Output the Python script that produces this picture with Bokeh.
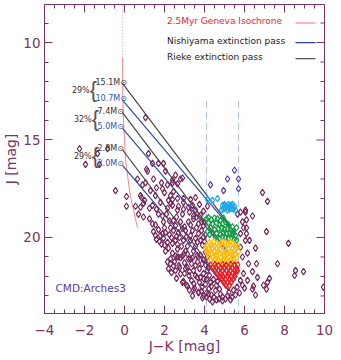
import math
from bokeh.plotting import figure
from bokeh.models import Range1d, FixedTicker, Label
from bokeh.embed import file_html
from bokeh.resources import INLINE

# ---------------- data ----------------
x_ticks = [-4, -2, 0, 2, 4, 6, 8, 10]
x_tick_labels = ["\u22124", "\u22122", "0", "2", "4", "6", "8", "10"]
x_minor = [-3.5, -3, -2.5, -1.5, -1, -0.5, 0.5, 1, 1.5, 2.5, 3, 3.5, 4.5, 5, 5.5,
           6.5, 7, 7.5, 8.5, 9, 9.5]
y_ticks = [10, 15, 20]
y_minor = [9, 11, 12, 13, 14, 16, 17, 18, 19, 21, 22, 23]

# 2.5 Myr Geneva isochrone (J-K, J)
iso_color = [-0.1, -0.08, -0.05, 0.05, 0.2, 0.3, 0.45, 0.65]
iso_J = [10.8, 13.0, 14.0, 16.0, 17.2, 17.9, 18.6, 19.5]
iso_upper_color = [-0.1, -0.1]
iso_upper_J = [7.5, 10.8]

# extinction vectors: start on isochrone, meet at a common end point
rieke_start_J = [12.1, 13.6, 15.5]
nishi_start_J = [12.95, 14.4, 16.3]
start_color = [-0.1, -0.1, -0.1]
end_color = [5.6, 5.4, 5.2]
end_J = [19.85, 21.05, 22.7]

rieke_mass = ["15.1M\u2299", "7.4M\u2299", "2.8M\u2299"]
nishi_mass = ["10.7M\u2299", "5.0M\u2299", "2.0M\u2299"]
mass_pct = ["29%", "32%", "29%"]

cut_color = [4.1, 5.7]
cut_J_top = [13.0, 13.0]
cut_J_bot = [24.0, 24.0]

field_color = [-2.25, -1.95, -1.35, -1.25, -0.85, 1.05,
    1.2, 1.4, 1.7, 1.95, 1.1, 1.15, 2.05, 1.45, 0.65, 1.85, 2.55, 2.4, 2.4, 2.8, 2.9, 2.65,
    -0.45, 0.9, 0.8, 2.3, 2.45, 2.65, 0.1, 0.85, 2.95, 2.4,
    0.1, 0.55, 0.8, 0.95, 1.0, 1.25, 1.4, 0.7, 0.95, 1.8, 1.7, 1.9, 2.3, 2.15, 2.4, 2.95, 3.4, 2.65, 2.9, 3.25, 3.55, 3.8,
    1.4, 1.55, 1.95, 2.45, 2.8, 3.2, 3.45, 3.7, 3.95,
    1.7, 1.45, 1.9, 2.05, 2.3, 2.45, 1.8, 2.7, 3.05, 3.4, 3.7, 3.95,
    1.95, 2.15, 2.4, 2.2, 2.65, 2.55, 2.95, 3.3, 3.65, 3.9, 2.65, 3.05, 3.45, 3.8, 2.7, 2.4,
    4.15, 2.8, 3.2, 3.65, 4.05, 4.2, 2.45, 2.63, 2.97, 3.3, 3.63, 2.3, 2.72, 3.13, 3.55, 3.88, 4.13,
    2.8, 3.22, 3.63, 3.97, 4.3, 3.47, 3.88, 4.22, 4.55, 4.8, 4.47, 4.72, 5.05, 5.38, 5.22, 5.63, 5.8, 5.63,
    5.65, 6.05, 5.9, 6.1, 5.8, 6.05, 5.8, 5.9, 5.95,
    6.9, 7.15, 6.05, 6.4, 6.1, 7.1, 6.1, 6.25, 8.2, 6.55, 6.15, 7.65, 8.55, 8.5, 8.95, 6.6, 7.25, 7.15,
    6.95, 7.1, 6.45, 6.4, 6.55, 6.65, 9.95, 5.95, 6.4, 6.15, 5.9, 6.2, 5.8,
    3.0, 3.3, 3.55, 3.15, 2.85, 3.35, 3.0, 3.75, 3.45, 3.05, 2.55, 3.35, 3.75, 4.05, 4.35, 4.6, 4.1, 4.35,
    4.6, 4.9, 5.15, 5.45, 5.55, 4.75, 3.95, 4.25, 4.45, 4.65, 4.05, 4.0, 3.85, 4.05, 4.0, 3.6, 3.95, 4.15,
    3.75, 3.3, 3.55, 2.25, 2.1, 2.6, 1.6, 1.25, 2.0, 2.55, 2.9, 1.6, 1.85, 2.05, 2.3, 2.55, 2.15,
    3.1, 3.5, 3.85, 4.2, 2.95, 3.25, 3.7, 4.1, 4.4, 4.9, 5.3, 5.75, 6.0, 3.4, 3.9,
    2.35, 2.6, 2.9, 3.15, 3.45, 3.7, 3.95, 4.25, 2.2, 2.5, 2.75, 3.0, 3.25, 3.55, 3.8, 4.1,
    2.9, 3.15, 3.4, 3.7, 3.95, 3.55, 3.8, 3.1, 2.75, 2.6, 2.25, 2.0, 1.75, 2.35, 1.55,
    3.3, 3.6, 3.85, 2.95, 3.2, 3.45, 2.7, 2.2, 2.0, 1.6, 1.3, 1.05, 1.55, 1.9, 2.15]
field_J = [15.45, 16.25, 15.7, 16.25, 15.45, 13.85,
    15.7, 16.2, 16.2, 16.2, 16.5, 16.6, 16.6, 17.0, 17.0, 17.2, 16.8, 17.2, 17.05, 17.0, 16.95, 17.25,
    17.6, 17.3, 17.85, 17.85, 17.65, 18.0, 17.9, 17.95, 18.0, 18.05,
    18.4, 18.4, 18.45, 18.25, 18.1, 18.5, 18.35, 18.8, 18.95, 18.2, 18.8, 18.9, 18.25, 18.5, 18.35, 18.2, 18.35, 18.6, 18.8, 18.7, 18.6, 18.85,
    19.3, 19.35, 19.2, 19.13, 19.2, 19.2, 19.05, 19.3, 19.4,
    19.6, 19.7, 19.8, 19.75, 19.5, 19.65, 19.9, 19.75, 19.65, 19.65, 19.8, 19.98,
    20.05, 20.25, 20.3, 20.55, 20.35, 20.15, 20.15, 20.15, 20.24, 20.4, 20.6, 20.7, 20.7, 20.9, 21.0, 20.8,
    21.0, 21.05, 21.1, 21.25, 21.4, 21.55, 21.45, 21.0, 20.84, 21.1, 20.93, 21.35, 21.44, 21.52, 21.44, 21.35, 21.7,
    21.87, 21.95, 22.04, 22.12, 22.3, 22.38, 22.55, 22.64, 22.72, 22.9, 23.06, 23.15, 23.15, 23.06, 22.81, 22.55, 22.2, 21.7,
    18.8, 18.6, 19.2, 19.5, 19.8, 20.15, 20.5, 21.0, 19.5,
    17.7, 18.15, 18.7, 18.9, 19.1, 19.7, 19.8, 20.15, 20.3, 20.55, 20.8, 21.35, 21.7, 21.95, 21.75, 21.35, 22.1, 22.3,
    22.45, 22.65, 22.5, 22.65, 22.95, 22.05, 22.55, 21.85, 21.75, 22.2, 22.45, 21.35, 18.7,
    19.45, 19.9, 20.45, 20.45, 20.45, 21.35, 21.3, 21.6, 21.7, 21.6, 21.7, 22.2, 22.3, 22.4, 22.5, 22.45, 22.85, 22.95,
    23.2, 23.25, 23.0, 22.7, 22.95, 22.65, 21.85, 21.95, 22.15, 22.25, 20.75, 20.2, 19.65, 19.85, 19.2, 18.95, 18.65, 18.4,
    18.3, 18.05, 17.95, 19.15, 18.8, 18.95, 18.55, 19.05, 19.5, 19.4, 19.55, 20.1, 20.35, 20.7, 21.1, 20.95, 21.25,
    22.45, 22.6, 22.75, 22.9, 22.25, 22.7, 22.85, 23.05, 23.3, 23.05, 23.2, 22.85, 22.6, 23.0, 23.1,
    21.8, 22.1, 22.3, 22.5, 22.7, 22.8, 23.0, 23.15, 21.6, 21.25, 21.55, 21.85, 21.75, 21.95, 22.05, 22.15,
    20.95, 20.85, 21.05, 21.0, 21.15, 20.05, 20.15, 19.95, 20.0, 19.95, 19.85, 20.4, 20.2, 20.0, 19.9,
    19.35, 19.5, 19.2, 18.55, 18.45, 18.9, 18.4, 18.1, 17.7, 17.45, 17.6, 17.2, 17.85, 17.5, 17.3]

violet_color = [5.5, 4.3, 5.15, 5.7, 4.95, 5.7]
violet_J = [16.55, 17.3, 17.0, 17.0, 17.6, 17.5]

cyan_color = [4.15, 4.4, 4.65, 4.9, 5.0, 5.1, 5.2, 5.3, 5.4, 5.5, 4.95, 5.05, 5.15, 5.25, 5.35, 5.45,
              5.2, 5.0, 5.35, 5.55, 4.85]
cyan_J = [18.05, 18.1, 18.0, 18.35, 18.3, 18.4, 18.3, 18.35, 18.3, 18.4, 18.55, 18.5, 18.6, 18.55, 18.5, 18.55,
          18.45, 18.42, 18.42, 18.6, 18.6]

green_color = [4.1, 4.2, 4.35, 4.5, 4.65, 4.8, 4.95, 4.2, 4.4, 4.6, 4.75, 4.9, 5.05, 5.2, 4.3, 4.5, 4.7, 4.85,
               5.0, 5.15, 5.3, 5.45, 4.4, 4.6, 4.8, 4.95, 5.1, 5.25, 5.4, 5.55, 4.25, 4.55, 4.75, 4.9, 5.05,
               5.2, 5.35, 5.5, 5.6, 5.4, 4.15, 5.6]
green_J = [19.05, 18.98, 19.1, 19.0, 19.05, 19.12, 19.0, 19.25, 19.3, 19.25, 19.35, 19.3, 19.2, 19.35, 19.5,
           19.6, 19.55, 19.5, 19.6, 19.55, 19.6, 19.7, 19.75, 19.8, 19.85, 19.75, 19.8, 19.75, 19.85, 19.9,
           19.85, 20.0, 20.05, 19.95, 20.0, 20.05, 20.0, 20.1, 19.5, 19.45, 19.7, 20.15]

yellow_color = [4.25, 4.47, 4.63, 4.86, 5.04, 5.27, 5.44,
                4.1, 4.32, 4.49, 4.71, 4.88, 5.12, 5.29, 5.52, 5.66,
                4.05, 4.22, 4.38, 4.61, 4.79, 5.02, 5.19, 5.41, 5.58,
                4.12, 4.28, 4.52, 4.69, 4.92, 5.08, 5.31, 5.49, 5.7,
                4.16, 4.34, 4.57, 4.74, 4.96, 5.14, 5.37, 5.54,
                4.21, 4.41, 4.59, 4.82, 4.99, 5.22, 5.39, 5.61,
                4.31, 4.52, 4.68, 4.91, 5.09, 5.32, 5.48,
                4.46, 4.64, 4.87, 5.06, 5.24, 5.44]
yellow_J = [20.26, 20.22, 20.3, 20.24, 20.28, 20.23, 20.3,
            20.42, 20.38, 20.44, 20.4, 20.43, 20.37, 20.42, 20.39, 20.45,
            20.56, 20.58, 20.53, 20.57, 20.55, 20.59, 20.54, 20.57, 20.52,
            20.71, 20.68, 20.73, 20.69, 20.72, 20.7, 20.74, 20.68, 20.71,
            20.86, 20.84, 20.88, 20.83, 20.87, 20.85, 20.82, 20.87,
            21.0, 21.02, 20.98, 21.03, 21.0, 20.97, 21.02, 21.0,
            21.15, 21.13, 21.17, 21.14, 21.16, 21.12, 21.15,
            21.3, 21.28, 21.32, 21.29, 21.31, 21.27]

red_color = [4.3, 4.52, 4.69, 4.91, 5.08, 5.31, 5.49, 5.66,
             4.41, 4.58, 4.81, 4.99, 5.22, 5.39, 5.61,
             4.52, 4.71, 4.88, 5.12, 5.29, 5.51, 5.64,
             4.62, 4.79, 5.02, 5.19, 5.41, 5.56,
             4.76, 4.94, 5.16, 5.34, 5.51,
             4.87, 5.04, 5.26, 5.44,
             4.96, 5.16, 5.34,
             5.06, 5.24]
red_J = [21.42, 21.39, 21.44, 21.4, 21.43, 21.38, 21.42, 21.4,
         21.56, 21.54, 21.57, 21.53, 21.56, 21.55, 21.58,
         21.7, 21.72, 21.68, 21.71, 21.69, 21.72, 21.7,
         21.86, 21.84, 21.87, 21.85, 21.83, 21.86,
         22.0, 22.02, 21.99, 22.01, 22.0,
         22.15, 22.14, 22.16, 22.13,
         22.3, 22.31, 22.28,
         22.45, 22.47]

# ---------------- styling ----------------
AXC = "#7a3466"
FONT = "DejaVu Sans"
XR = (-4, 10)
YR = (23.9, 8.05)

p = figure(width=341, height=358, x_range=Range1d(*XR), y_range=Range1d(*YR),
           output_backend="svg", toolbar_location=None,
           min_border_left=44, min_border_right=17, min_border_top=4, min_border_bottom=45)
p.xgrid.visible = False
p.ygrid.visible = False
p.outline_line_color = AXC
p.background_fill_color = "white"


def style_axis(ax, ticks, minor):
    ax.ticker = FixedTicker(ticks=ticks, minor_ticks=minor)
    ax.axis_line_color = AXC
    ax.major_tick_line_color = AXC
    ax.minor_tick_line_color = AXC
    ax.major_tick_in = 8
    ax.major_tick_out = 0
    ax.minor_tick_in = 4
    ax.minor_tick_out = 0
    ax.major_label_text_color = AXC
    ax.major_label_text_font = FONT
    ax.axis_label_text_color = AXC
    ax.axis_label_text_font = FONT
    ax.axis_label_text_font_style = "normal"


xa = p.xaxis[0]
style_axis(xa, x_ticks, x_minor)
xa.major_label_overrides = {t: s for t, s in zip(x_ticks, x_tick_labels)}
xa.major_label_text_font_size = "13.5px"
xa.major_label_standoff = 11
xa.axis_label = "J\u2212K [mag]"
xa.axis_label_text_font_size = "14px"
xa.axis_label_standoff = 0

ya = p.yaxis[0]
style_axis(ya, y_ticks, y_minor)
ya.major_label_text_font_size = "13.5px"
ya.major_label_standoff = 4
ya.axis_label = "J [mag]"
ya.axis_label_text_font_size = "14px"
ya.axis_label_standoff = 1

# mirrored inward ticks on top and right frame edges
p.scatter(x_ticks, [YR[1]] * len(x_ticks), marker="dash", angle=math.pi / 2, size=16,
          line_color=AXC, line_width=1)
p.scatter(x_minor, [YR[1]] * len(x_minor), marker="dash", angle=math.pi / 2, size=8,
          line_color=AXC, line_width=1)
p.scatter([XR[1]] * len(y_ticks), y_ticks, marker="dash", size=16, line_color=AXC, line_width=1)
p.scatter([XR[1]] * len(y_minor), y_minor, marker="dash", size=8, line_color=AXC, line_width=1)

# cut lines
p.segment(x0=cut_color, y0=cut_J_top, x1=cut_color, y1=cut_J_bot,
          line_color="#a9c9ea", line_width=1, line_dash="7 4")

# isochrone
p.line(iso_upper_color, iso_upper_J, line_color="#f4a3a3", line_width=1, line_dash="1 2")
p.line(iso_color, iso_J, line_color="#f08a8a", line_width=1)

# extinction vectors
p.segment(x0=start_color, y0=rieke_start_J, x1=end_color, y1=end_J,
          line_color="#454545", line_width=1.2)
p.segment(x0=start_color, y0=nishi_start_J, x1=end_color, y1=end_J,
          line_color="#2f4aaa", line_width=1.2)

# stars
mk = dict(marker="diamond", size=6.5, fill_color=None, line_width=1.2)
p.scatter(field_color, field_J, line_color="#742a5c", **mk)
p.scatter(violet_color, violet_J, line_color="#5e3d9e", **mk)
p.scatter(cyan_color, cyan_J, line_color="#25a6e3", **mk)
p.scatter(green_color, green_J, line_color="#14a046", **mk)
p.scatter(yellow_color, yellow_J, line_color="#f9bd12", **mk)
p.scatter(red_color, red_J, line_color="#ec1c24", **mk)

# legend (drawn as text + line samples)
leg_texts = ["2.5Myr Geneva Isochrone", "Nishiyama extinction pass", "Rieke extinction pass"]
leg_text_colors = ["#f0262c", "#222222", "#222222"]
leg_line_colors = ["#f4a0a0", "#2b3f9e", "#555555"]
leg_J = [8.92, 9.93, 10.75]
for t, tc, lc, yy in zip(leg_texts, leg_text_colors, leg_line_colors, leg_J):
    p.add_layout(Label(x=2.12, y=yy, text=t, text_color=tc, text_font=FONT,
                       text_font_size="9px", text_baseline="middle", text_align="left"))
    p.line([8.55, 9.55], [yy + 0.08, yy + 0.08], line_color=lc, line_width=1.3)

# mass labels
for i in range(3):
    xo = 0.1 * (i > 0)
    p.add_layout(Label(x=-1.45 + xo, y=rieke_start_J[i] - 0.05, text=rieke_mass[i],
                       text_color="#333333", text_font=FONT, text_font_size="8px",
                       text_baseline="middle", text_align="left"))
    p.add_layout(Label(x=-1.45 + xo, y=nishi_start_J[i] - 0.1, text=nishi_mass[i],
                       text_color="#3152b8", text_font=FONT, text_font_size="8px",
                       text_baseline="middle", text_align="left"))
    mid = (rieke_start_J[i] + nishi_start_J[i]) / 2
    p.add_layout(Label(x=-1.74 + xo, y=mid - 0.1, text="{", text_color="#555555",
                       text_font="Liberation Sans", text_font_size="22px",
                       text_baseline="middle", text_align="left"))
    p.add_layout(Label(x=-1.74 + xo, y=mid - 0.05, text=mass_pct[i], text_color="#333333",
                       text_font=FONT, text_font_size="8px",
                       text_baseline="middle", text_align="right"))

p.add_layout(Label(x=-3.45, y=22.6, text="CMD:Arches3", text_color="#5a3a9e",
                   text_font=FONT, text_font_size="10.5px",
                   text_baseline="middle", text_align="left"))

open("out.html", "w").write(file_html(p, INLINE))
